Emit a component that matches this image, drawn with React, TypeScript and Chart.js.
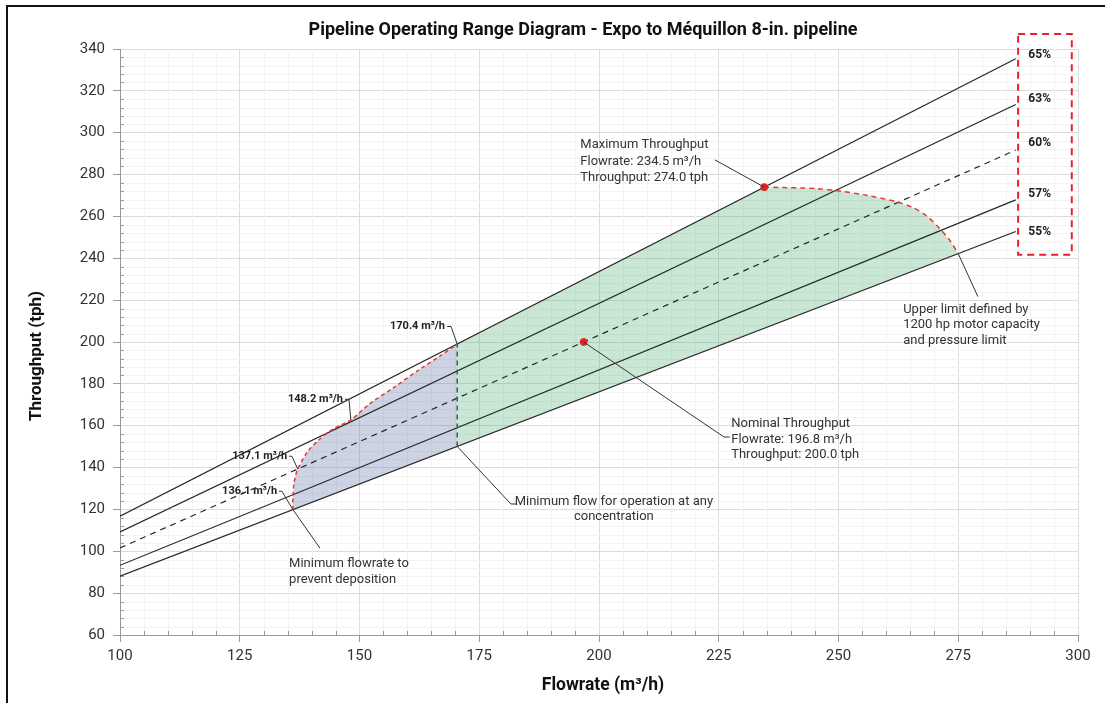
import React, { useEffect, useRef } from 'react';
import { Chart, registerables } from 'chart.js';

Chart.register(...registerables);

// ---------- data ----------
const concentrationLabels = ['65%', '63%', '60%', '57%', '55%'];
const lineFlow = [100, 287];
const line65 = [116.8, 335.3];
const line63 = [109.2, 313.5];
const line60 = [101.6, 291.7];
const line57 = [93.3, 267.9];
const line55 = [88.1, 252.8];
const labelFlow = 292;
const labelThroughput = [337.1, 316.1, 295.2, 270.8, 252.7];

// lower (deposition) limit curve
const lowCurveFlow = [136.1, 136.1, 136.3, 136.7, 137.1, 139.1, 141.4, 144.5, 148.2, 152.2, 157.0, 162.6, 166.8, 170.4];
const lowCurveTph = [119.9, 126.0, 132.0, 136.5, 139.3, 147.4, 153.0, 158.4, 162.8, 170.6, 178.0, 187.0, 193.3, 199.0];

// upper (motor capacity / pressure) limit curve
const upCurveFlow = [234.5, 238.5, 245.4, 250.3, 255.9, 262.1, 265.6, 268.4, 271.2, 273.3, 275.0];
const upCurveTph = [274.0, 273.8, 273.3, 272.1, 270.1, 267.0, 264.2, 260.3, 254.0, 248.4, 242.2];

// minimum flow for operation at any concentration
const minOpFlow = 170.4;
const minOpTph = [150.1, 199.0];

// key points
const maxPoint = { x: 234.5, y: 274.0 };
const nominalPoint = { x: 196.8, y: 200.0 };

const xTicks = { min: 100, max: 300, step: 25, minor: 5 };
const yTicks = { min: 60, max: 340, step: 20, minor: 4 };

const titleText = 'Pipeline Operating Range Diagram - Expo to Méquillon 8-in. pipeline';
const xTitle = 'Flowrate (m³/h)';
const yTitle = 'Throughput (tph)';

// annotations (data coordinates)
const calloutTexts = [
  { lines: ['Maximum Throughput', 'Flowrate: 234.5 m³/h', 'Throughput: 274.0 tph'], x: 196.1, y: [294.2, 286.1, 278.5], align: 'left' },
  { lines: ['Nominal Throughput', 'Flowrate: 196.8 m³/h', 'Throughput: 200.0 tph'], x: 227.6, y: [161.1, 153.5, 146.3], align: 'left' },
  { lines: ['Upper limit defined by', '1200 hp motor capacity', 'and pressure limit'], x: 263.5, y: [215.5, 208.3, 200.7], align: 'left' },
  { lines: ['Minimum flow for operation at any', 'concentration'], x: 203.1, y: [123.9, 116.3], align: 'center' },
  { lines: ['Minimum flowrate to', 'prevent deposition'], x: 135.3, y: [93.9, 86.2], align: 'left' },
];
const calloutLeaders = [
  [[224.2, 287.0], [234.5, 274.0]],
  [[196.8, 200.0], [226.1, 154.6], [227.3, 154.6]],
  [[275.0, 242.2], [279.1, 221.7]],
  [[170.4, 150.1], [181.6, 122.6], [182.7, 122.6]],
  [[136.1, 119.9], [141.75, 101.5]],
];
const flowLabels = [
  { text: '170.4 m³/h', x: 167.85, y: 207.4, leader: [[168.3, 207.4], [169.1, 207.4], [170.4, 199.0]] },
  { text: '148.2 m³/h', x: 146.55, y: 172.6, leader: [[146.97, 172.6], [147.8, 172.6], [148.2, 162.8]] },
  { text: '137.1 m³/h', x: 134.9, y: 145.4, leader: [[135.3, 145.4], [135.9, 145.4], [137.1, 139.3]] },
  { text: '136.1 m³/h', x: 132.8, y: 128.7, leader: [[133.2, 128.7], [133.8, 128.7], [136.1, 119.9]] },
];
const highlightBox = { x: [287.5, 298.7], y: [347.2, 241.7] };

const FONT = 'Roboto, "Noto Sans", "DejaVu Sans", sans-serif';

const pts = (xs: number[], ys: number[]) => xs.map((x, i) => ({ x, y: ys[i] }));

const customPlugin = {
  id: 'customDraw',
  beforeDatasetsDraw(chart: any) {
    const { ctx, chartArea, scales } = chart;
    const { left, right, top, bottom } = chartArea;
    const x = scales.x;
    const y = scales.y;
    ctx.save();
    ctx.lineWidth = 1;
    for (let v = xTicks.min; v <= xTicks.max; v += xTicks.minor) {
      if (v % xTicks.step === 0) continue;
      const px = Math.round(x.getPixelForValue(v)) + 0.5;
      ctx.strokeStyle = '#f3f3f3';
      ctx.beginPath(); ctx.moveTo(px, top); ctx.lineTo(px, bottom); ctx.stroke();
      ctx.strokeStyle = '#9a9a9a';
      ctx.beginPath(); ctx.moveTo(px, bottom); ctx.lineTo(px, bottom - 4); ctx.stroke();
    }
    for (let v = yTicks.min; v <= yTicks.max; v += yTicks.minor) {
      if (v % yTicks.step === 0) continue;
      const py = Math.round(y.getPixelForValue(v)) + 0.5;
      ctx.strokeStyle = '#f3f3f3';
      ctx.beginPath(); ctx.moveTo(left, py); ctx.lineTo(right, py); ctx.stroke();
      ctx.strokeStyle = '#9a9a9a';
      ctx.beginPath(); ctx.moveTo(left, py); ctx.lineTo(left + 4, py); ctx.stroke();
    }
    ctx.restore();
  },
  afterDatasetsDraw(chart: any) {
    const { ctx, scales } = chart;
    const X = (v: number) => scales.x.getPixelForValue(v);
    const Y = (v: number) => scales.y.getPixelForValue(v);
    ctx.save();
    ctx.strokeStyle = '#333';
    ctx.lineWidth = 1;
    const drawPoly = (poly: number[][]) => {
      ctx.beginPath();
      poly.forEach((p, i) => (i === 0 ? ctx.moveTo(X(p[0]), Y(p[1])) : ctx.lineTo(X(p[0]), Y(p[1]))));
      ctx.stroke();
    };
    calloutLeaders.forEach(drawPoly);
    flowLabels.forEach((f) => drawPoly(f.leader));
    ctx.fillStyle = '#333';
    ctx.font = `13px ${FONT}`;
    ctx.textBaseline = 'middle';
    calloutTexts.forEach((c) => {
      ctx.textAlign = c.align as CanvasTextAlign;
      c.lines.forEach((t, i) => ctx.fillText(t, X(c.x), Y(c.y[i])));
    });
    ctx.fillStyle = '#222';
    ctx.font = `bold 11px ${FONT}`;
    ctx.textAlign = 'right';
    flowLabels.forEach((f) => ctx.fillText(f.text, X(f.x), Y(f.y)));
    ctx.font = `bold 12px ${FONT}`;
    ctx.textAlign = 'center';
    concentrationLabels.forEach((t, i) => ctx.fillText(t, X(labelFlow), Y(labelThroughput[i])));
    ctx.strokeStyle = '#e8202a';
    ctx.lineWidth = 2;
    ctx.setLineDash([7, 5]);
    const bx0 = X(highlightBox.x[0]);
    const bx1 = X(highlightBox.x[1]);
    const by0 = Y(highlightBox.y[0]);
    const by1 = Y(highlightBox.y[1]);
    ctx.strokeRect(bx0, by0, bx1 - bx0, by1 - by0);
    ctx.setLineDash([]);
    ctx.restore();
  },
  afterDraw(chart: any) {
    const { ctx, chartArea } = chart;
    ctx.save();
    ctx.fillStyle = '#111';
    ctx.textAlign = 'center';
    ctx.textBaseline = 'middle';
    ctx.font = `bold 18px ${FONT}`;
    ctx.fillText(titleText, 583, 30);
    ctx.font = `bold 17.5px ${FONT}`;
    ctx.fillText(xTitle, (chartArea.left + chartArea.right) / 2 + 4, 686);
    ctx.font = `bold 17px ${FONT}`;
    ctx.translate(37, 356);
    ctx.rotate(-Math.PI / 2);
    ctx.fillText(yTitle, 0, 0);
    ctx.restore();
  },
};

export default function App() {
  const canvasRef = useRef<HTMLCanvasElement | null>(null);

  useEffect(() => {
    if (!canvasRef.current) return;
    const lineStyle = (label: string, ys: number[], dashed = false) => ({
      label,
      data: pts(lineFlow, ys),
      showLine: true,
      borderColor: '#262626',
      borderWidth: 1.2,
      borderDash: dashed ? [6, 5] : [],
      pointRadius: 0,
      fill: false,
      order: 2,
    });
    const greenPoly = [
      { x: minOpFlow, y: minOpTph[1] },
      ...pts(upCurveFlow, upCurveTph),
      { x: minOpFlow, y: minOpTph[0] },
      { x: minOpFlow, y: minOpTph[1] },
    ];
    const bluePoly = [
      ...pts(lowCurveFlow, lowCurveTph),
      { x: minOpFlow, y: minOpTph[0] },
      { x: lowCurveFlow[0], y: lowCurveTph[0] },
    ];
    const chart = new Chart(canvasRef.current, {
      type: 'scatter',
      data: {
        datasets: [
          {
            label: 'Operating range',
            data: greenPoly,
            showLine: true,
            borderWidth: 0,
            borderColor: 'rgba(0,0,0,0)',
            backgroundColor: 'rgba(60,170,100,0.28)',
            pointRadius: 0,
            fill: 'shape',
            order: 5,
          },
          {
            label: 'Below minimum flow',
            data: bluePoly,
            showLine: true,
            borderWidth: 0,
            borderColor: 'rgba(0,0,0,0)',
            backgroundColor: 'rgba(90,110,160,0.3)',
            pointRadius: 0,
            fill: 'shape',
            order: 5,
          },
          lineStyle('65%', line65),
          lineStyle('63%', line63),
          lineStyle('60%', line60, true),
          lineStyle('57%', line57),
          lineStyle('55%', line55),
          {
            label: 'Minimum flow',
            data: [{ x: minOpFlow, y: minOpTph[0] }, { x: minOpFlow, y: minOpTph[1] }],
            showLine: true,
            borderColor: '#2e6a48',
            borderWidth: 1.5,
            borderDash: [5, 4],
            pointRadius: 0,
            fill: false,
            order: 1,
          },
          {
            label: 'Deposition limit',
            data: pts(lowCurveFlow, lowCurveTph),
            showLine: true,
            borderColor: '#e53935',
            borderWidth: 1.5,
            borderDash: [4, 3],
            tension: 0.3,
            pointRadius: 0,
            fill: false,
            order: 1,
          },
          {
            label: 'Upper limit',
            data: pts(upCurveFlow, upCurveTph),
            showLine: true,
            borderColor: '#e53935',
            borderWidth: 1.5,
            borderDash: [5, 4],
            tension: 0.3,
            pointRadius: 0,
            fill: false,
            order: 1,
          },
          {
            label: 'Key points',
            data: [maxPoint, nominalPoint],
            showLine: false,
            pointRadius: 3.5,
            pointBackgroundColor: '#e02424',
            pointBorderColor: '#e02424',
            order: 0,
          },
        ],
      },
      options: {
        animation: false,
        responsive: true,
        maintainAspectRatio: false,
        events: [],
        layout: { padding: { left: 20, right: 27, top: 49, bottom: 0 } },
        plugins: { legend: { display: false }, tooltip: { enabled: false }, title: { display: false } },
        scales: {
          x: {
            type: 'linear',
            min: xTicks.min,
            max: xTicks.max,
            afterFit: (s: any) => { s.height = 68; },
            ticks: { stepSize: xTicks.step, color: '#333', font: { family: FONT, size: 15 }, padding: 5 },
            grid: { color: '#dcdcdc', tickColor: '#9a9a9a', tickLength: 7 },
            border: { color: '#9a9a9a' },
          },
          y: {
            type: 'linear',
            min: yTicks.min,
            max: yTicks.max,
            afterFit: (s: any) => { s.width = 100; },
            ticks: { stepSize: yTicks.step, color: '#333', font: { family: FONT, size: 15 }, padding: 8 },
            grid: { color: '#dcdcdc', tickColor: '#9a9a9a', tickLength: 7 },
            border: { color: '#9a9a9a' },
          },
        },
      },
      plugins: [customPlugin],
    } as any);
    return () => chart.destroy();
  }, []);

  return (
    <div style={{ position: 'fixed', left: 0, top: 0, width: 1105, height: 703, background: '#fff' }}>
      <canvas ref={canvasRef} />
      <div
        style={{
          position: 'absolute',
          left: 6,
          top: 5,
          right: 0,
          bottom: 0,
          borderTop: '2px solid #111',
          borderLeft: '2px solid #111',
          pointerEvents: 'none',
        }}
      />
    </div>
  );
}
